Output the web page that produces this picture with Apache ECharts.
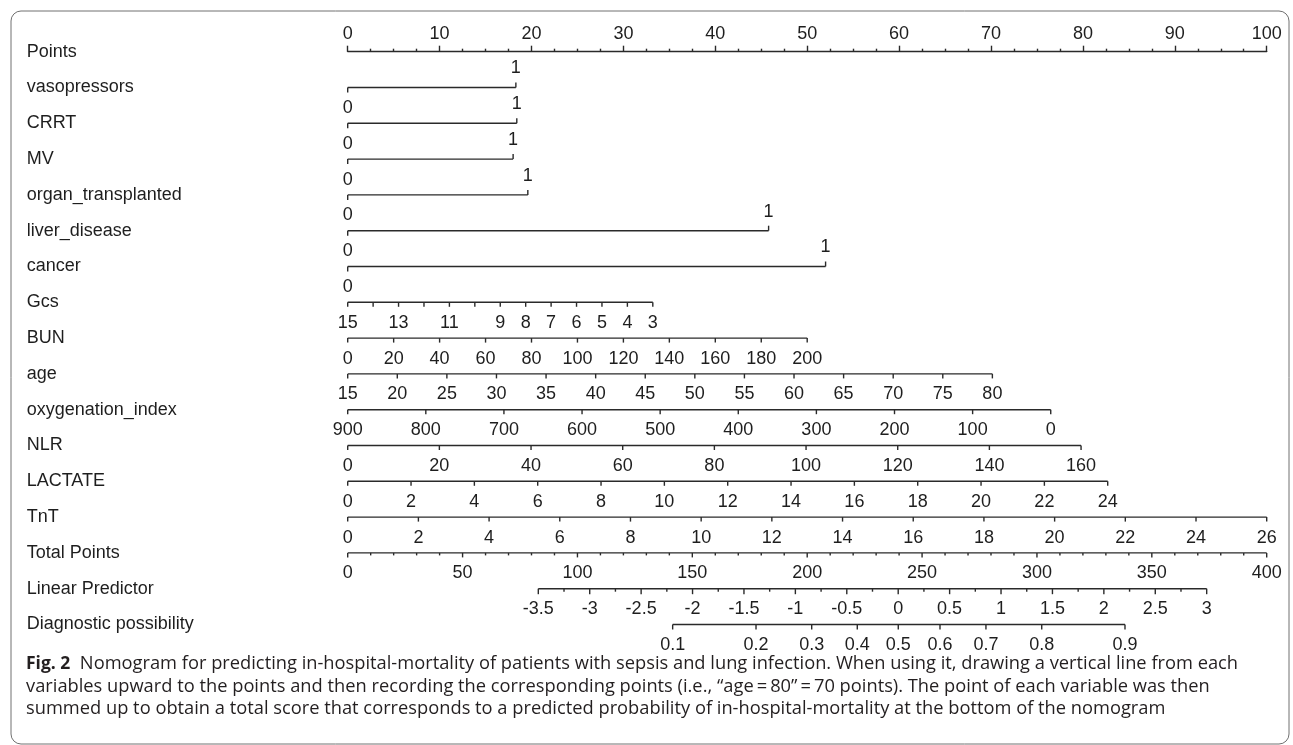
<!DOCTYPE html>
<html><head><meta charset="utf-8">
<script src="https://cdn.jsdelivr.net/npm/echarts@6/dist/echarts.min.js"></script>
<style>html,body{margin:0;padding:0;background:#fff}#c{width:1293px;height:745px}</style>
</head><body><div id="c"></div>
<script>
// ---------- DATA ----------
const rowNames = ['Points','vasopressors','CRRT','MV','organ_transplanted','liver_disease','cancer','Gcs','BUN','age','oxygenation_index','NLR','LACTATE','TnT','Total Points','Linear Predictor','Diagnostic possibility'];

const pointsLabels = [0,10,20,30,40,50,60,70,80,90,100];

// binary predictors: points of level "1" (level "0" = 0 points)
const binaryNames = ['vasopressors','CRRT','MV','organ_transplanted','liver_disease','cancer'];
const binaryPoints = [18.3,18.4,18.0,19.6,45.8,52.0];

// continuous predictors: ticks, labelled ticks, points at first / last tick
const gcsTicks = [15,14,13,12,11,10,9,8,7,6,5,4,3];
const gcsLabels = [15,13,11,9,8,7,6,5,4,3];
const gcsPts = [0,33.2];

const bunTicks = [0,20,40,60,80,100,120,140,160,180,200];
const bunPts = [0,50.0];

const ageTicks = [15,20,25,30,35,40,45,50,55,60,65,70,75,80];
const agePts = [0,70.15];

const oxyTicks = [900,800,700,600,500,400,300,200,100,0];
const oxyPts = [0,76.5];

const nlrTicks = [0,20,40,60,80,100,120,140,160];
const nlrPts = [0,79.8];

const lactateTicks = [0,2,4,6,8,10,12,14,16,18,20,22,24];
const lactatePts = [0,82.7];

const tntTicks = [0,2,4,6,8,10,12,14,16,18,20,22,24,26];
const tntPts = [0,100];

const totalTicks = [0,10,20,30,40,50,60,70,80,90,100,110,120,130,140,150,160,170,180,190,200,210,220,230,240,250,260,270,280,290,300,310,320,330,340,350,360,370,380,390,400];
const totalLabels = [0,50,100,150,200,250,300,350,400];
const totalPts = [0,100];

const lpTicks = [-3.5,-3.25,-3,-2.75,-2.5,-2.25,-2,-1.75,-1.5,-1.25,-1,-0.75,-0.5,-0.25,0,0.25,0.5,0.75,1,1.25,1.5,1.75,2,2.25,2.5,2.75,3];
const lpLabels = [-3.5,-3,-2.5,-2,-1.5,-1,-0.5,0,0.5,1,1.5,2,2.5,3];
const lpPts = [20.74,93.47];

const probLabels = [0.1,0.2,0.3,0.4,0.5,0.6,0.7,0.8,0.9];
const probPoints = [35.36,44.43,50.49,55.45,59.91,64.45,69.45,75.52,84.58];

// ---------- STYLE ----------
const LINE_C = '#2a2a2a';
const TXT_C = '#1e1e1e';
const FONT = '18px "Liberation Sans", Arial, sans-serif';
const LW = 1.4;

// ---------- build row specs ----------
function lin(ticks, pts) {
  const v0 = ticks[0], v1 = ticks[ticks.length - 1];
  return v => pts[0] + (v - v0) / (v1 - v0) * (pts[1] - pts[0]);
}
const specs = [];
binaryNames.forEach((n, i) => {
  const p1 = binaryPoints[i];
  specs.push({
    row: rowNames.indexOf(n), from: 0, to: p1,
    ticks: [{pts: 0, len: 5, up: false}, {pts: p1, len: 5, up: true}],
    labels: [{pts: 0, text: '0', up: false}, {pts: p1, text: '1', up: true}]
  });
});
function scaleRow(name, ticks, labels, pts, majorLen, minorLen) {
  const f = lin(ticks, pts);
  const labSet = labels.map(String);
  specs.push({
    row: rowNames.indexOf(name), from: f(ticks[0]), to: f(ticks[ticks.length - 1]),
    ticks: ticks.map(v => ({pts: f(v), len: labSet.indexOf(String(v)) >= 0 ? majorLen : minorLen, up: false})),
    labels: labels.map(v => ({pts: f(v), text: String(v), up: false}))
  });
}
scaleRow('Gcs', gcsTicks, gcsLabels, gcsPts, 4.5, 4.5);
scaleRow('BUN', bunTicks, bunTicks, bunPts, 4.5, 4.5);
scaleRow('age', ageTicks, ageTicks, agePts, 4.5, 4.5);
scaleRow('oxygenation_index', oxyTicks, oxyTicks, oxyPts, 4.5, 4.5);
scaleRow('NLR', nlrTicks, nlrTicks, nlrPts, 4.5, 4.5);
scaleRow('LACTATE', lactateTicks, lactateTicks, lactatePts, 4.5, 4.5);
scaleRow('TnT', tntTicks, tntTicks, tntPts, 4.5, 4.5);
scaleRow('Total Points', totalTicks, totalLabels, totalPts, 4.5, 2.5);
scaleRow('Linear Predictor', lpTicks, lpLabels, lpPts, 5.5, 3);
specs.push({
  row: rowNames.indexOf('Diagnostic possibility'), from: probPoints[0], to: probPoints[probPoints.length - 1],
  ticks: probPoints.map(p => ({pts: p, len: 5, up: false})),
  labels: probLabels.map((v, i) => ({pts: probPoints[i], text: String(v), up: false}))
});

function renderItem(params, api) {
  const s = specs[params.dataIndex];
  const c = v => api.coord([v, s.row]);
  const children = [];
  const a = c(s.from), b = c(s.to);
  children.push({type: 'line', shape: {x1: a[0], y1: a[1], x2: b[0], y2: b[1]}, style: {stroke: LINE_C, lineWidth: LW}});
  s.ticks.forEach(t => {
    const p = c(t.pts);
    const d = t.up ? -t.len : t.len;
    children.push({type: 'line', shape: {x1: p[0], y1: p[1], x2: p[0], y2: p[1] + d}, style: {stroke: LINE_C, lineWidth: LW}});
  });
  s.labels.forEach(l => {
    const p = c(l.pts);
    children.push({type: 'text', x: p[0], y: p[1] + (l.up ? -19 : 20.5),
      style: {text: l.text, fill: TXT_C, font: FONT, align: 'center', verticalAlign: 'middle'}});
  });
  return {type: 'group', children};
}

const caption =
  '{b|Fig. 2}  Nomogram for predicting in-hospital-mortality of patients with sepsis and lung infection. When using it, drawing a vertical line from each\n' +
  'variables upward to the points and then recording the corresponding points (i.e., \u201cage\u2009=\u200980\u201d\u2009=\u200970 points). The point of each variable was then\n' +
  'summed up to obtain a total score that corresponds to a predicted probability of in-hospital-mortality at the bottom of the nomogram';

const chart = echarts.init(document.getElementById('c'), null, {renderer: 'canvas'});
chart.setOption({
  animation: false,
  backgroundColor: '#ffffff',
  title: {
    text: caption, left: 26, top: 653, padding: 0,
    textStyle: {
      fontFamily: '"Open Sans", "Noto Sans", sans-serif', fontSize: 18.3, fontWeight: 'normal',
      color: '#231f20', lineHeight: 22.5,
      rich: {b: {fontFamily: '"Open Sans", "Noto Sans", sans-serif', fontSize: 17.5, fontWeight: 'bold', color: '#231f20', lineHeight: 22.5}}
    }
  },
  graphic: [{
    type: 'rect', silent: true, z: -1,
    shape: {x: 11, y: 11, width: 1278, height: 733, r: 10},
    style: {fill: 'none', stroke: '#707070', lineWidth: 1}
  }],
  grid: {left: 347.7, right: 26.3, top: 51.7, bottom: 120.5, containLabel: false},
  xAxis: {
    type: 'value', position: 'top', min: 0, max: 100, interval: 10,
    axisLine: {show: true, onZero: false, lineStyle: {color: LINE_C, width: LW}},
    axisTick: {show: true, inside: false, length: 6, lineStyle: {color: LINE_C, width: LW}},
    minorTick: {show: true, splitNumber: 4, length: 3, lineStyle: {color: LINE_C, width: LW}},
    axisLabel: {show: true, margin: 9, color: TXT_C, fontSize: 18, fontFamily: '"Liberation Sans", Arial, sans-serif',
      customValues: pointsLabels},
    splitLine: {show: false}
  },
  yAxis: {
    type: 'category', data: rowNames, inverse: true, boundaryGap: false,
    axisLine: {show: false}, axisTick: {show: false}, splitLine: {show: false},
    axisLabel: {show: true, interval: 0, align: 'left', margin: 321, color: TXT_C, fontSize: 18,
      fontFamily: '"Liberation Sans", Arial, sans-serif'}
  },
  series: [{
    type: 'custom', clip: false, renderItem: renderItem,
    data: specs.map(s => [s.from, s.row])
  }]
});
</script>
</body></html>
